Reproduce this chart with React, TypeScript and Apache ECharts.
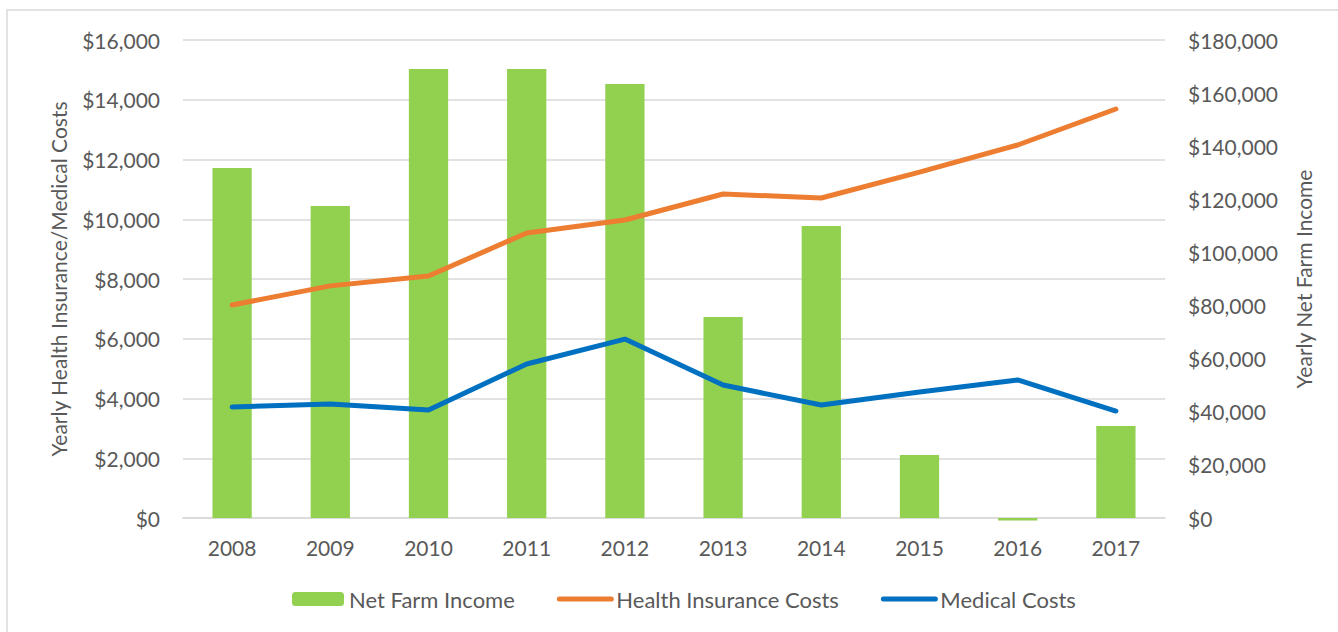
import React, { useEffect, useRef } from "react";
import * as echarts from "echarts";

const years = ["2008", "2009", "2010", "2011", "2012", "2013", "2014", "2015", "2016", "2017"];
const netFarmIncome = [131800, 117500, 169100, 169100, 163400, 75700, 110000, 23700, -900, 34600];
const healthInsurance = [7130, 7770, 8100, 9540, 9975, 10845, 10710, 11580, 12485, 13690];
const medicalCosts = [3715, 3815, 3615, 5155, 5990, 4450, 3780, 4215, 4620, 3580];

const FONT = "Lato, 'Open Sans', sans-serif";
const TXT = "#595959";
const FS = 21;

const money = (v: number) => "$" + v.toLocaleString("en-US");

export default function App() {
  const ref = useRef<HTMLDivElement>(null);
  useEffect(() => {
    if (!ref.current) return;
    const chart = echarts.init(ref.current, undefined, { renderer: "svg" });
    chart.setOption({
      animation: false,
      backgroundColor: "#ffffff",
      textStyle: { fontFamily: FONT },
      graphic: [
        {
          type: "rect",
          shape: { x: 7, y: 10, width: 1340, height: 640 },
          style: { fill: "none", stroke: "#d9d9d9", lineWidth: 1.5 },
          silent: true,
        },
      ],
      grid: { left: 183, right: 173, top: 40, bottom: 114 },
      legend: {
        bottom: 17,
        left: 287,
        itemWidth: 52,
        itemHeight: 14,
        itemGap: 42,
        textStyle: { color: TXT, fontSize: 22, fontFamily: FONT },
        data: [
          { name: "Net Farm Income" },
          {
            name: "Health Insurance Costs",
            itemStyle: { opacity: 0 },
            lineStyle: { width: 5, cap: "round", color: "#ed7d31" },
          },
          {
            name: "Medical Costs",
            itemStyle: { opacity: 0 },
            lineStyle: { width: 5, cap: "round", color: "#0070c0" },
          },
        ],
      },
      xAxis: {
        type: "category",
        data: years,
        axisLine: { show: true, lineStyle: { color: "#d9d9d9", width: 1.5 } },
        axisTick: { show: false },
        axisLabel: { color: TXT, fontSize: FS, margin: 19, fontFamily: FONT },
      },
      yAxis: [
        {
          type: "value",
          min: 0,
          max: 16000,
          interval: 2000,
          position: "left",
          name: "Yearly Health Insurance/Medical Costs",
          nameLocation: "middle",
          nameGap: 114,
          nameTextStyle: { color: TXT, fontSize: FS, fontFamily: FONT },
          axisLine: { show: false },
          axisTick: { show: false },
          axisLabel: { color: TXT, fontSize: FS, margin: 23, formatter: (v: number) => money(v), fontFamily: FONT },
          splitLine: { show: true, lineStyle: { color: "#d9d9d9", width: 1.5 } },
        },
        {
          type: "value",
          min: 0,
          max: 180000,
          interval: 20000,
          position: "right",
          name: "Yearly Net Farm Income",
          nameLocation: "middle",
          nameGap: 128,
          nameRotate: 90,
          nameTextStyle: { color: TXT, fontSize: FS, fontFamily: FONT },
          axisLine: { show: false },
          axisTick: { show: false },
          axisLabel: { color: TXT, fontSize: FS, margin: 23, formatter: (v: number) => money(v), fontFamily: FONT },
          splitLine: { show: false },
        },
      ],
      series: [
        {
          name: "Net Farm Income",
          type: "bar",
          yAxisIndex: 1,
          data: netFarmIncome,
          barWidth: "40%",
          clip: false,
          z: 3,
          itemStyle: { color: "#92d050" },
        },
        {
          name: "Health Insurance Costs",
          type: "line",
          yAxisIndex: 0,
          data: healthInsurance,
          symbol: "none",
          z: 4,
          lineStyle: { color: "#ed7d31", width: 5, cap: "round" },
          itemStyle: { color: "#ed7d31" },
        },
        {
          name: "Medical Costs",
          type: "line",
          yAxisIndex: 0,
          data: medicalCosts,
          symbol: "none",
          z: 4,
          lineStyle: { color: "#0070c0", width: 5, cap: "round" },
          itemStyle: { color: "#0070c0" },
        },
      ],
    });
    return () => chart.dispose();
  }, []);
  return (
    <div
      ref={ref}
      style={{ position: "fixed", left: 0, top: 0, width: 1338, height: 632 }}
    />
  );
}
